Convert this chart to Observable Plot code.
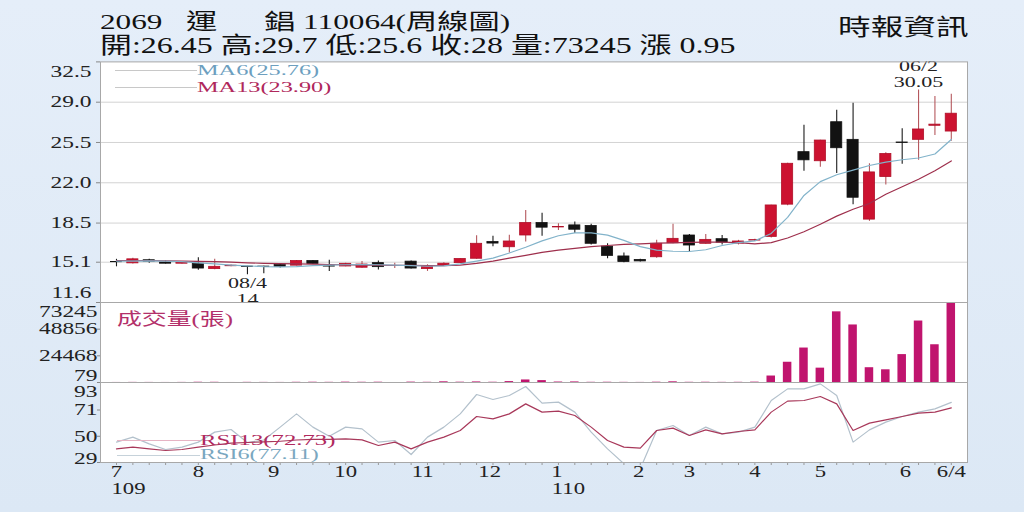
<!DOCTYPE html>
<html>
<head>
<meta charset="utf-8">
<script src="https://cdn.jsdelivr.net/npm/d3@7"></script>
<script src="https://cdn.jsdelivr.net/npm/@observablehq/plot@0.6"></script>
<style>
  body { margin: 0; }
  #page {
    position: relative; width: 1024px; height: 512px; overflow: hidden;
    background: linear-gradient(#e5eef9, #dce8f5);
    font-family: "Liberation Serif", "Noto Sans CJK TC", serif;
  }
  .t { position: absolute; white-space: pre; line-height: 1; transform-origin: 0 50%; }
  .seg { position: absolute; height: 0; }
  svg { position: absolute; left: 0; overflow: visible; }
</style>
</head>
<body>
<div id="page"></div>
<script>
// 週K 資料 (52 週)
const opens  = [15.12,15.0,15.27,15.08,14.97,14.97,14.5,14.75,14.72,14.72, 14.85,14.8,15.2,14.75,14.73,14.62,15.02,14.85,15.15,14.5, 14.8,15.02,15.4,16.85,16.4,17.42,18.5,18.12,18.3,18.25, 16.45,15.6,15.3,15.53,16.75,17.42,16.7,17.1,16.72,16.98, 17.3,20.1,24.66,23.87,27.26,25.73,18.8,22.5,25.5,25.73, 26.95,26.45];
const highs  = [15.35,15.45,15.35,15.2,15.12,15.48,15.35,14.85,14.75,14.75, 14.95,15.25,15.25,15.27,15.0,15.16,15.2,15.0,15.2,14.88, 15.05,15.4,17.4,17.35,17.45,19.6,19.35,18.45,18.6,18.4, 16.7,15.9,15.35,17.0,18.4,17.5,17.5,17.42,17.0,17.1, 20.05,23.7,27.0,25.7,28.3,28.9,23.65,24.6,26.7,30.05, 29.5,29.7];
const lows   = [14.7,14.95,15.0,14.95,14.95,14.4,14.45,14.7,14.0,14.1, 14.6,14.78,14.9,14.3,14.7,14.58,14.42,14.55,14.5,14.3, 14.75,15.0,15.35,16.45,15.9,16.85,17.35,17.85,17.6,16.6, 15.4,15.05,15.12,15.45,16.7,16.0,16.65,16.6,16.6,16.9, 17.2,20.0,23.0,23.35,22.8,20.1,18.65,21.8,23.6,23.95, 26.1,25.6];
const closes = [15.1,15.35,15.15,14.97,15.08,14.55,14.7,14.8,14.68,14.68, 14.7,15.2,14.95,14.72,14.96,14.9,14.67,14.85,14.55,14.75, 14.97,15.38,16.7,16.72,16.9,18.5,18.1,18.15,17.92,16.7, 15.65,15.12,15.17,16.7,17.13,16.55,17.04,16.8,16.9,17.02, 20.03,23.65,23.95,25.67,25.0,20.7,22.9,24.5,25.45,26.63, 27.05,28.0];
const volumes = [120,180,150,110,160,300,260,90,220,170, 140,260,320,230,400,280,330,79,420,260, 700,350,600,300,900,2400,1800,500,600,250, 300,200,150,350,700,250,300,200,250,400, 6000,18600,31600,13200,64700,52700,13600,11700,25600,56300, 34600,73245];
const ma6  = [15.2,15.2,15.22,15.2,15.15,15.05,14.95,14.85,14.78,14.72, 14.7,14.72,14.8,14.85,14.88,14.9,14.88,14.85,14.8,14.75, 14.78,14.95,15.2,15.45,15.9,16.4,16.95,17.4,17.65,17.65, 17.45,17.0,16.45,16.15,16.05,16.03,16.18,16.55,16.8,16.95, 17.6,19.0,20.9,22.1,22.7,23.1,23.5,23.8,24.0,24.15, 24.5,25.76];
const ma13 = [15.25,15.25,15.25,15.22,15.2,15.18,15.15,15.1,15.05,15.0, 14.97,14.95,14.93,14.9,14.88,14.85,14.85,14.83,14.82,14.8, 14.8,14.85,15.0,15.2,15.45,15.7,15.95,16.15,16.3,16.45, 16.55,16.65,16.7,16.75,16.78,16.82,16.85,16.85,16.8,16.7, 16.8,17.2,17.75,18.4,19.1,19.7,20.2,21.0,21.65,22.3, 23.05,23.90];
const rsi6  = [45.3,49.3,43.9,39.4,41.3,45.3,53.3,55.4,45,47, 57.3,67.9,57.3,50,57.3,55.9,45.3,46.6,35.4,49.3, 57.3,67.9,83.4,79.4,82.6,89.8,76.5,77.3,69.3,53.3, 39.9,28,24,54.6,58.6,50.6,57.3,51.9,53.3,57.3, 78.6,87.9,87.9,91.9,82.6,45.3,55.1,61.3,65.8,69.3, 71.9,77.11];
const rsi13 = [39.9,41.3,39.9,38.6,39.4,41.3,43,44.5,45,45.5, 46,47,47.5,47.5,47.9,47.1,42.6,45.3,39.9,45.3, 49.3,54.6,65.8,63.9,67.9,75.9,69.3,70.1,66.6,57.3, 46.6,41.3,40.5,54.6,56.5,50.6,55.1,51.9,53.8,55.1, 69.3,78.1,78.6,81.8,75.9,54.6,60.5,63.1,65.8,68.5, 69.3,72.73];

const priceTicks = [11.6, 15.1, 18.5, 22.0, 25.5, 29.0, 32.5];
const volTicks = [79, 24468, 48856, 73245];
const rsiTicks = [29, 50, 71, 93];
const monthAt = [0, 5, 9.6, 14, 18.7, 22.8, 26.9, 31.9, 35, 39, 43, 48.2, 51];
const monthLabels = ["7", "8", "9", "10", "11", "12", "1", "2", "3", "4", "5", "6", "6/4"];
const yearAt = [0, 26.9];
const yearLabels = ["109", "110"];
const hiDate = "06/2", loDate = "08/4";

const page = document.getElementById("page");
const font = '"Liberation Serif", "Noto Sans CJK TC", serif';
const SX = 1.42;
const W = 1024, ML = 100, MR = 57;
const xDomain = [-0.977, 51.99];
const weeks = d3.range(opens.length);
const candles = weeks.map(i => ({i, o: opens[i], h: highs[i], l: lows[i], c: closes[i], up: closes[i] >= opens[i]}));
const last = opens.length - 1;
const hiIdx = highs.indexOf(d3.max(highs));
const loIdx = lows.indexOf(d3.min(lows));

// 文字橫向拉寬 (原圖字形較寬)
function stretch(svg) {
  svg.querySelectorAll("text").forEach(t => {
    const tr = t.getAttribute("transform");
    if (tr) t.setAttribute("transform", tr + ` scale(${SX},1)`);
    else {
      const x = +t.getAttribute("x") || 0, y = +t.getAttribute("y") || 0;
      t.removeAttribute("x"); t.removeAttribute("y");
      t.setAttribute("transform", `translate(${x},${y}) scale(${SX},1)`);
    }
  });
  return svg;
}

function yLabels(ticks, fmt, dx, dyTop, dyBottom) {
  const opts = {y: d => d, text: fmt, frameAnchor: "left", dx, textAnchor: "end", fontSize: 16.5, fill: "#222"};
  return [
    Plot.text(ticks.slice(1, -1), opts),
    Plot.text(ticks.slice(-1), {...opts, dy: dyTop}),
    Plot.text(ticks.slice(0, 1), {...opts, dy: dyBottom})
  ];
}

const base = {width: W, marginLeft: ML, marginRight: MR, style: {background: "transparent", fontFamily: font, color: "#222"}};

/* 價格 K 線 */
const price = Plot.plot({
  ...base, height: 250, marginTop: 9.4, marginBottom: 0,
  x: {domain: xDomain, axis: null},
  y: {domain: [11.6, 32.5], axis: null},
  marks: [
    Plot.frame({fill: "white", stroke: "none"}),
    Plot.gridY({ticks: priceTicks.slice(1, -1), stroke: "#d3d3d3", strokeOpacity: 1}),
    Plot.ruleX(candles, {x: "i", y1: "l", y2: "h", stroke: d => d.up ? "#b5585e" : "#1c1c1c", strokeWidth: 1.1}),
    Plot.rect(candles, {
      x1: d => d.i - 0.34, x2: d => d.i + 0.34, y1: "o", y2: "c",
      fill: d => d.up ? "#cc1230" : "#121212", stroke: d => d.up ? "#b01028" : "#121212", strokeWidth: 0.8
    }),
    Plot.lineY(ma13, {x: (d, i) => i, y: d => d, stroke: "#9e2f4c", strokeWidth: 1.2}),
    Plot.lineY(ma6, {x: (d, i) => i, y: d => d, stroke: "#82b3ca", strokeWidth: 1.2}),
    // 最高、最低點標註
    Plot.text([hiIdx], {x: d => d, y: d => highs[d], text: () => hiDate, dy: -24, fontSize: 15.5, fill: "#222"}),
    Plot.text([hiIdx], {x: d => d, y: d => highs[d], text: d => String(highs[d]), dy: -8, fontSize: 15.5, fill: "#222"}),
    Plot.text([loIdx], {x: d => d, y: d => lows[d], text: () => loDate, dy: 8, fontSize: 15.5, fill: "#222"}),
    Plot.text([loIdx], {x: d => d, y: d => lows[d], text: d => String(lows[d]), dy: 24.5, fontSize: 15.5, fill: "#222"}),
    Plot.axisY({ticks: priceTicks, tickSize: 4, tickFormat: () => "", stroke: "#888", label: null}),
    ...yLabels(priceTicks, d => d.toFixed(1), -9, 9.5, -10),
    Plot.frame({stroke: "#a8a8a8"})
  ]
});

/* 成交量 */
const vol = Plot.plot({
  ...base, height: 80, marginTop: 0, marginBottom: 0,
  x: {domain: xDomain, axis: null},
  y: {domain: [79, 73245], axis: null},
  marks: [
    Plot.frame({fill: "white", stroke: "none"}),
    Plot.rectY(weeks, {x1: i => i - 0.26, x2: i => i + 0.26, y: i => volumes[i], fill: "#c0146e"}),
    Plot.axisY({ticks: volTicks, tickSize: 3, tickFormat: () => "", stroke: "#888", label: null}),
    ...yLabels(volTicks, d => String(d), -3, 9.5, -7),
    Plot.frame({stroke: "#a8a8a8"})
  ]
});

/* RSI */
const rsi = Plot.plot({
  ...base, height: 130, marginTop: 0, marginBottom: 50,
  x: {domain: xDomain, axis: null},
  y: {domain: [29, 93], axis: null},
  marks: [
    Plot.frame({fill: "white", stroke: "none"}),
    Plot.lineY(rsi6, {x: (d, i) => i, y: d => d, stroke: "#b3c1cc", strokeWidth: 1.2, clip: true}),
    Plot.lineY(rsi13, {x: (d, i) => i, y: d => d, stroke: "#a8385a", strokeWidth: 1.2, clip: true}),
    Plot.axisX({ticks: weeks, tickSize: 3, tickFormat: () => "", stroke: "#999", label: null}),
    Plot.axisY({ticks: rsiTicks, tickSize: 3, tickFormat: () => "", stroke: "#888", label: null}),
    Plot.text(monthAt, {x: d => d, text: (d, i) => monthLabels[i], frameAnchor: "bottom", dy: 14, fontSize: 16, fill: "#222"}),
    Plot.text(yearAt, {x: d => d, text: (d, i) => yearLabels[i], frameAnchor: "bottom", dy: 31, dx: -5, textAnchor: "start", fontSize: 16, fill: "#222"}),
    ...yLabels(rsiTicks, d => String(d), -3, 9, -4),
    Plot.frame({stroke: "#a8a8a8"})
  ]
});

[[price, 52], [vol, 302], [rsi, 382]].forEach(([svg, top]) => {
  stretch(svg);
  svg.style.top = top + "px";
  page.append(svg);
});

/* 標題與圖例 */
function label(text, left, cy, size, color, sx = SX) {
  const s = document.createElement("div");
  s.className = "t";
  s.textContent = text;
  Object.assign(s.style, {left: left + "px", top: (cy - size / 2) + "px", fontSize: size + "px", color, transform: `scaleX(${sx})`});
  page.append(s);
}
function seg(left, right, y, color) {
  const s = document.createElement("div");
  s.className = "seg";
  Object.assign(s.style, {left: left + "px", width: (right - left) + "px", top: y + "px", borderTop: `1px solid ${color}`});
  page.append(s);
}

const chg = (closes[last] - closes[last - 1]).toFixed(2);
label("2069   運      錩 110064(周線圖)", 100, 22, 22, "#111");
label(`開:${opens[last]} 高:${highs[last]} 低:${lows[last]} 收:${closes[last]} 量:${volumes[last]} 漲 ${chg}`, 100, 46, 22.5, "#111");
label("時報資訊", 838, 27, 23, "#111");

seg(115, 197, 70, "#c8c8c8");
seg(115, 197, 87, "#c8c8c8");
label(`MA6(${ma6[last].toFixed(2)})`, 197, 70, 15, "#6d9fbf", 1.62);
label(`MA13(${ma13[last].toFixed(2)})`, 197, 87, 15, "#b0285c", 1.62);
label("成交量(張)", 117, 320, 17.5, "#b3306a");
seg(117, 200, 440, "#e6b4c4");
seg(117, 200, 455, "#c6d2da");
label(`RSI13(${rsi13[last].toFixed(2)})`, 200, 440, 15, "#b02a5e", 1.65);
label(`RSI6(${rsi6[last].toFixed(2)})`, 200, 454.5, 14.5, "#7aa7c0", 1.66);
</script>
</body>
</html>
